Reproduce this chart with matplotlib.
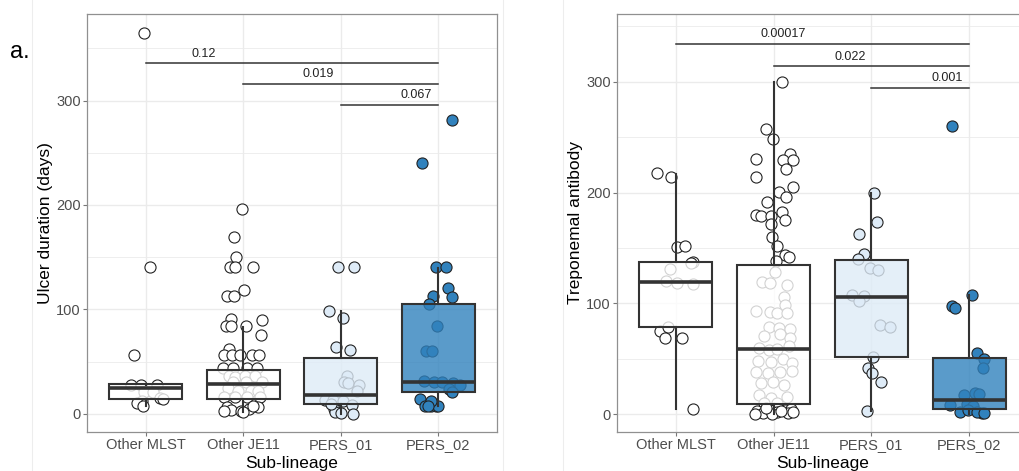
import matplotlib
matplotlib.use("Agg")
import matplotlib.pyplot as plt
from matplotlib.colors import to_rgba
from matplotlib.lines import Line2D

plt.rcParams['font.family'] = ['Liberation Sans', 'DejaVu Sans']

# Sub-lineages and fill colours
groups = ['Other MLST', 'Other JE11', 'PERS_01', 'PERS_02']
fills = ['#FFFFFF', '#FFFFFF', '#DEEBF7', '#3182BD']

# --- Ulcer duration (days): jittered points (value, x offset) ---
ulcer_mlst = [365, 141, 56, 28, 28, 28, 21, 21, 15, 14, 12, 10, 7]
ulcer_mlst_dx = [-0.02, 0.05, -0.12, -0.15, -0.05, 0.12, -0.02, 0.08, 0.15, 0.18, -0.04, -0.09, -0.03]
ulcer_je11 = [196, 169, 150.6, 141, 141, 141, 119, 113, 113, 91, 90, 84, 84, 84, 75, 62,
              56, 56, 56, 56, 56, 44, 44, 44, 44, 36, 35, 36, 36, 30, 30, 30, 25, 22, 22, 22,
              16, 16, 16, 16, 6, 4, 3, 5, 6, 2, 7, 3]
ulcer_je11_dx = [-0.01, -0.09, -0.07, -0.14, -0.08, 0.1, 0.01, -0.17, -0.09, -0.13, 0.19, -0.18, -0.13, 0.03, 0.18, -0.15,
                 -0.2, -0.11, -0.03, 0.09, 0.16, -0.21, -0.1, 0.04, 0.14, -0.15, -0.08, 0.02, 0.12, -0.1, 0.03, 0.19, -0.16, -0.05, 0.08, 0.15,
                 -0.2, -0.08, 0.04, 0.17, -0.17, -0.12, -0.02, 0.06, 0.15, 0.0, 0.1, -0.2]
ulcer_pers01 = [141, 141, 98.6, 91.5, 63.5, 60.6, 36.6, 30, 29, 28, 22, 13, 13, 12, 8, 5, 2, 1, 0, 9]
ulcer_pers01_dx = [-0.03, 0.14, -0.12, 0.02, -0.05, 0.09, 0.06, 0.03, 0.07, 0.19, 0.17, -0.16, -0.08, 0.02, 0.11, -0.07, -0.06, 0.0, 0.12, -0.1]
ulcer_pers02 = [281, 240.5, 141, 141, 120, 112, 113, 105, 84.5, 60.5, 60.5, 31, 30, 30, 29, 28, 24, 21, 14, 7, 7, 7, 7, 12, 7]
ulcer_pers02_dx = [0.14, -0.17, -0.03, 0.08, 0.1, 0.14, -0.06, -0.1, -0.01, -0.13, -0.07, -0.15, -0.05, 0.04, 0.15, 0.22, 0.11, 0.14, -0.19, -0.14, -0.08, -0.02, 0.0, -0.08, -0.11]

# box statistics
ulcer_q1 = [14, 14, 9.5, 21]
ulcer_med = [25, 28.5, 18, 30.5]
ulcer_q3 = [28.7, 42, 53.5, 105]
ulcer_lo = [7, 2, 0, 7]
ulcer_hi = [28, 83, 98, 140]

# --- Treponemal antibody ---
ab_mlst = [218, 214, 151, 152, 137.6, 136, 130.7, 120.4, 118, 117.4, 75, 79, 68.4, 68.4, 4.5]
ab_mlst_dx = [-0.19, -0.05, 0.01, 0.1, 0.18, 0.16, -0.06, -0.1, 0.01, 0.18, -0.16, -0.08, -0.11, 0.06, 0.18]
ab_je11 = [300, 257.5, 248, 230, 214.4, 235, 229, 229, 221, 205, 200.8, 196.3, 191, 180, 179, 179, 182, 175,
           171.6, 159.6, 151.8, 143.6, 142, 138.5,
           128.4, 119.6, 118, 117, 106, 98.7, 93, 92, 91, 91, 79, 78, 77, 71, 72, 69, 60, 58, 59, 62,
           48, 47, 50, 46, 38, 37, 38, 39, 28, 29, 26, 17, 15, 16, 10, 10,
           3, 1, 4, 2, 4, 5, 0, 1, 3, 0, 2, 6]
ab_je11_dx = [0.09, -0.08, -0.01, -0.18, -0.18, 0.17, 0.1, 0.2, 0.13, 0.2, 0.06, 0.13, -0.07, -0.18, -0.13, -0.03, 0.09, 0.12,
              -0.03, -0.02, 0.04, 0.12, 0.16, 0.02,
              0.01, -0.12, -0.04, 0.14, 0.11, 0.12, -0.18, -0.04, 0.04, 0.14, -0.05, 0.06, 0.17, -0.1, 0.07, 0.17, -0.15, -0.05, 0.04, 0.16,
              -0.16, -0.03, 0.1, 0.19, -0.18, -0.06, 0.07, 0.19, -0.13, -0.01, 0.11, -0.15, -0.03, 0.14, -0.1, 0.04,
              -0.17, -0.11, -0.04, 0.03, 0.12, 0.18, -0.02, 0.15, 0.08, -0.19, 0.2, -0.08]
ab_pers01 = [200, 173.7, 162.3, 144.5, 139.7, 131.6, 130, 107.5, 106.6, 102, 80.4, 78.9, 51.2, 41.8, 37.3, 29.2, 2.7]
ab_pers01_dx = [0.03, 0.06, -0.13, -0.08, -0.14, -0.01, 0.07, -0.2, -0.08, -0.13, 0.09, 0.19, 0.02, -0.03, 0.01, 0.1, -0.05]
ab_pers02 = [260, 97.6, 95.5, 107.5, 55.4, 49.4, 41.3, 17.2, 19.3, 18, 8.7, 9.6, 7.2, 2, 3.6, 1.2, 2, 1.2]
ab_pers02_dx = [-0.18, -0.18, -0.15, 0.03, 0.08, 0.15, 0.14, -0.05, 0.06, 0.1, -0.2, -0.02, 0.04, -0.09, -0.01, 0.13, 0.08, 0.15]

ab_q1 = [78.6, 9, 51.5, 4.5]
ab_med = [119, 58.7, 106, 12.6]
ab_q3 = [137, 134.6, 139, 50.6]
ab_lo = [5, 0, 2.7, 0.5]
ab_hi = [217, 300, 200, 107.5]

# pairwise p-values: (group a, group b, bracket height, label, label x)
ulcer_pvals = [(1, 4, 336, '0.12', 1.6), (2, 4, 316, '0.019', 2.77), (3, 4, 296, '0.067', 3.77)]
ab_pvals = [(1, 4, 334, '0.00017', 2.1), (2, 4, 314, '0.022', 2.78), (3, 4, 294.5, '0.001', 3.77)]


def draw_panel(ax, vals, dxs, q1, med, q3, lo, hi, pvals, ylim, ylabel):
    # jittered points below the semi-transparent boxes
    for i, (v, d) in enumerate(zip(vals, dxs)):
        xs = [i + 1 + o for o in d]
        ax.scatter(xs, v, s=64, facecolor=fills[i], edgecolor='#222222',
                   linewidth=0.8, zorder=2)
    stats = []
    for i in range(4):
        stats.append({'q1': q1[i], 'med': med[i], 'q3': q3[i],
                      'whislo': lo[i], 'whishi': hi[i], 'fliers': []})
    bp = ax.bxp(stats, positions=[1, 2, 3, 4], widths=0.75, patch_artist=True,
                showfliers=False, showcaps=False,
                boxprops=dict(edgecolor='#333333', linewidth=1.5),
                whiskerprops=dict(color='#333333', linewidth=1.5),
                medianprops=dict(color='#333333', linewidth=2.6),
                zorder=3)
    for patch, c in zip(bp['boxes'], fills):
        patch.set_facecolor(to_rgba(c, 0.8))

    for a, b, h, lab, lx in pvals:
        ax.plot([a, b], [h, h], color='#333333', lw=1.1, zorder=4)
        ax.annotate(lab, (lx, h), xytext=(0, 2.5), textcoords='offset points',
                    ha='center', va='bottom', fontsize=9, color='#222222')

    ax.set_xlim(0.4, 4.6)
    ax.set_ylim(*ylim)
    ax.set_xticks([1, 2, 3, 4])
    ax.set_xticklabels(groups)
    ax.set_yticks([0, 100, 200, 300])
    ax.set_yticks([50, 150, 250, 350], minor=True)
    ax.grid(True, which='major', color='#EBEBEB', lw=1.0, zorder=0)
    ax.grid(True, which='minor', axis='y', color='#EBEBEB', lw=0.6, zorder=0)
    ax.set_axisbelow(True)
    ax.tick_params(which='major', length=3, color='#777777', labelsize=10.5,
                   labelcolor='#4D4D4D', pad=1.5)
    ax.tick_params(which='minor', length=0)
    for s in ax.spines.values():
        s.set_color('#909090')
        s.set_linewidth(0.9)
    ax.set_ylabel(ylabel, fontsize=12.5)
    ax.set_xlabel('Sub-lineage', fontsize=12.5)
    ax.yaxis.set_label_coords(-0.083, 0.5)
    ax.xaxis.set_label_coords(0.5, -0.058)


fig = plt.figure(figsize=(10.2, 4.71), dpi=100)

# faint outer layout lines
for xf in [32 / 1020, 503 / 1020, 563 / 1020]:
    fig.add_artist(Line2D([xf, xf], [0, 1], color='#EDEDED', lw=0.8, zorder=0))

ax1 = fig.add_axes([87 / 1020, 39 / 471, 410 / 1020, 418 / 471])
ax2 = fig.add_axes([617 / 1020, 39 / 471, 411 / 1020, 418 / 471])

draw_panel(ax1, [ulcer_mlst, ulcer_je11, ulcer_pers01, ulcer_pers02],
           [ulcer_mlst_dx, ulcer_je11_dx, ulcer_pers01_dx, ulcer_pers02_dx],
           ulcer_q1, ulcer_med, ulcer_q3, ulcer_lo, ulcer_hi, ulcer_pvals,
           (-17.5, 383), 'Ulcer duration (days)')
draw_panel(ax2, [ab_mlst, ab_je11, ab_pers01, ab_pers02],
           [ab_mlst_dx, ab_je11_dx, ab_pers01_dx, ab_pers02_dx],
           ab_q1, ab_med, ab_q3, ab_lo, ab_hi, ab_pvals,
           (-16, 361), 'Treponemal antibody')

fig.text(10 / 1020, 1 - 52 / 471, 'a.', fontsize=17, va='center', ha='left')

fig.savefig('out.png', dpi=100)
